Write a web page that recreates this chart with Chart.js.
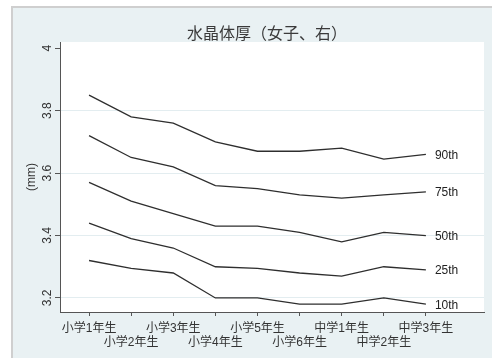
<!DOCTYPE html>
<html>
<head>
<meta charset="utf-8">
<script src="https://cdn.jsdelivr.net/npm/chart.js@4"></script>
<style>
html,body{margin:0;padding:0;background:#fff;}
#wrap{position:absolute;left:0;top:0;width:492px;height:358px;}
</style>
</head>
<body>
<div id="wrap"><canvas id="c" width="492" height="358"></canvas></div>
<script>
const categories = ['小学1年生','小学2年生','小学3年生','小学4年生','小学5年生','小学6年生','中学1年生','中学2年生','中学3年生'];
const p90 = [3.85, 3.78, 3.76, 3.70, 3.67, 3.67, 3.68, 3.645, 3.66];
const p75 = [3.72, 3.65, 3.62, 3.56, 3.55, 3.53, 3.52, 3.53, 3.54];
const p50 = [3.57, 3.51, 3.47, 3.43, 3.43, 3.41, 3.38, 3.41, 3.40];
const p25 = [3.44, 3.39, 3.36, 3.30, 3.295, 3.28, 3.27, 3.30, 3.29];
const p10 = [3.32, 3.295, 3.28, 3.20, 3.20, 3.18, 3.18, 3.20, 3.18];
const seriesNames = ['90th','75th','50th','25th','10th'];
const yTicks = [3.2, 3.4, 3.6, 3.8, 4.0];
const titleText = '水晶体厚（女子、右）';
const yTitle = '(mm)';

const allSeries = [p90, p75, p50, p25, p10];
const datasets = allSeries.map((vals, i) => ({
  label: seriesNames[i],
  data: vals.map((v, j) => ({x: j + 1, y: v})),
  borderColor: '#2e2e2e',
  borderWidth: 1.3,
  pointRadius: 0,
  tension: 0,
  fill: false
}));

const frameBg = {
  id: 'frameBg',
  beforeDraw(chart) {
    const {ctx, chartArea} = chart;
    ctx.save();
    ctx.fillStyle = '#ffffff';
    ctx.fillRect(0, 0, chart.width, chart.height);
    ctx.fillStyle = '#e9f1f3';
    ctx.fillRect(12, 7, chart.width - 12, chart.height - 7);
    ctx.fillStyle = '#cfcfcf';
    ctx.fillRect(11, 6, chart.width - 11, 2);
    ctx.fillRect(11, 6, 2, chart.height - 6);
    ctx.fillStyle = '#ffffff';
    ctx.fillRect(chartArea.left, chartArea.top, chartArea.right - chartArea.left, chartArea.bottom - chartArea.top);
    ctx.restore();
  }
};

const titleDraw = {
  id: 'titleDraw',
  afterDraw(chart) {
    const {ctx, chartArea} = chart;
    ctx.save();
    ctx.font = '16px "Noto Sans CJK JP", sans-serif';
    ctx.fillStyle = '#3a3a3a';
    ctx.textAlign = 'center';
    ctx.textBaseline = 'middle';
    ctx.fillText(titleText, (chartArea.left + chartArea.right) / 2 - 5, chartArea.top - 9);
    ctx.restore();
  }
};

const endLabels = {
  id: 'endLabels',
  afterDatasetsDraw(chart) {
    const {ctx} = chart;
    const xs = chart.scales.x, ys = chart.scales.y;
    ctx.save();
    ctx.font = '12px "Liberation Sans", Arial, sans-serif';
    ctx.fillStyle = '#222';
    ctx.textAlign = 'left';
    ctx.textBaseline = 'middle';
    chart.data.datasets.forEach(ds => {
      const last = ds.data[ds.data.length - 1];
      ctx.fillText(ds.label, xs.getPixelForValue(last.x) + 9, ys.getPixelForValue(last.y) + 1);
    });
    ctx.restore();
  }
};

new Chart(document.getElementById('c'), {
  type: 'line',
  data: {datasets},
  options: {
    responsive: false,
    animation: false,
    devicePixelRatio: 1,
    layout: {padding: {left: 0, top: 42, right: 8, bottom: 0}},
    plugins: {
      legend: {display: false},
      tooltip: {enabled: false},
      title: {display: false}
    },
    scales: {
      x: {
        type: 'linear',
        min: 0.31,
        max: 10.38,
        afterBuildTicks(scale) { scale.ticks = categories.map((c, i) => ({value: i + 1})); },
        afterFit(scale) { scale.height = 46; scale.paddingLeft = 0; scale.paddingRight = 0; },
        grid: {display: true, drawOnChartArea: false, tickLength: 4, tickColor: '#555', color: '#555'},
        border: {display: true, color: '#555', width: 1},
        ticks: {
          autoSkip: false,
          maxRotation: 0,
          minRotation: 0,
          padding: 5,
          color: '#333',
          font: {family: '"Liberation Sans", "Noto Sans CJK JP", sans-serif', size: 12, lineHeight: 1.2},
          callback(v) {
            const i = Math.round(v) - 1;
            const lab = categories[i] || '';
            return i % 2 === 0 ? [lab] : ['', lab];
          }
        }
      },
      y: {
        type: 'linear',
        min: 3.155,
        max: 4.02,
        afterBuildTicks(scale) { scale.ticks = yTicks.map(v => ({value: v})); },
        afterFit(scale) { scale.width = 60; scale.paddingTop = 0; scale.paddingBottom = 0; },
        grid: {
          display: true,
          drawOnChartArea: true,
          tickLength: 5,
          tickColor: '#555',
          color: ctx => (ctx.tick && ctx.tick.value >= 3.99) ? 'rgba(0,0,0,0)' : '#e3edf0',
          lineWidth: 1
        },
        border: {display: true, color: '#555', width: 1},
        title: {
          display: true,
          text: yTitle,
          color: '#333',
          font: {family: '"Liberation Sans", sans-serif', size: 12, lineHeight: 1.2},
          padding: {top: 24, bottom: 0}
        },
        ticks: {
          minRotation: 90,
          maxRotation: 90,
          crossAlign: 'center',
          padding: -1,
          color: '#333',
          font: {family: '"Liberation Sans", sans-serif', size: 12},
          callback(v) { return String(Number(v.toFixed(1))); }
        }
      }
    }
  },
  plugins: [frameBg, titleDraw, endLabels]
});
</script>
</body>
</html>
